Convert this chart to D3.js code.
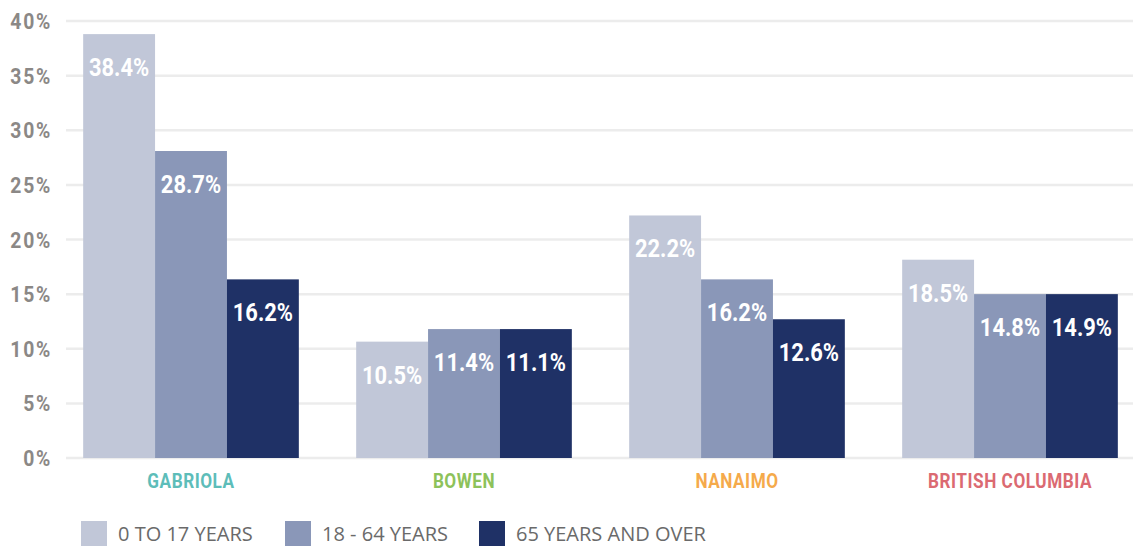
<!DOCTYPE html>
<html>
<head>
<meta charset="utf-8">
<script src="https://cdn.jsdelivr.net/npm/d3@7"></script>
<style>
  body { margin: 0; background: #fff; }
  svg { display: block; }
</style>
</head>
<body>
<div id="chart"></div>
<script>
// data
var regions = ["GABRIOLA", "BOWEN", "NANAIMO", "BRITISH COLUMBIA"];
var regionColors = ["#5dbdb9", "#8dc25a", "#f5aa4b", "#db6a72"];
var ageGroups = ["0 TO 17 YEARS", "18 - 64 YEARS", "65 YEARS AND OVER"];
var groupColors = ["#c1c7d8", "#8a97b8", "#1f3166"];
// bar heights as drawn (%), one array per age group
var young = [38.8, 10.65, 22.2, 18.15];
var adult = [28.1, 11.8, 16.35, 15.0];
var senior = [16.35, 11.8, 12.7, 15.0];
// printed labels
var youngLabels = ["38.4%", "10.5%", "22.2%", "18.5%"];
var adultLabels = ["28.7%", "11.4%", "16.2%", "14.8%"];
var seniorLabels = ["16.2%", "11.1%", "12.6%", "14.9%"];
var yTicks = [0, 5, 10, 15, 20, 25, 30, 35, 40];

var w = 1133, h = 546;
var boldFont = "Roboto, 'DejaVu Sans Condensed', sans-serif";

var svg = d3.select("#chart").append("svg")
  .attr("width", w)
  .attr("height", h);

var y = d3.scaleLinear().domain([0, 40]).range([458, 21]);

var x0 = d3.scaleBand()
  .domain(regions)
  .range([54.5, 1146.5])
  .paddingInner(0.21)
  .paddingOuter(0.105);

var x1 = d3.scaleBand()
  .domain(ageGroups)
  .range([0, x0.bandwidth()]);

// gridlines
svg.append("g").selectAll("line")
  .data(yTicks)
  .join("line")
    .attr("x1", 66)
    .attr("x2", w)
    .attr("y1", d => y(d))
    .attr("y2", d => y(d))
    .attr("stroke", "#ececec")
    .attr("stroke-width", 2.5);

// y tick labels
svg.append("g").selectAll("text")
  .data(yTicks)
  .join("text")
    .attr("transform", d => "translate(52," + y(d) + ") scale(0.86,1)")
    .attr("dy", "0.36em")
    .attr("text-anchor", "end")
    .attr("font-family", boldFont)
    .attr("font-weight", "bold")
    .attr("font-size", 22.5)
    .attr("letter-spacing", 2)
    .attr("fill", "#8b8886")
    .text(d => d + "%");

var series = [
  {name: ageGroups[0], values: young, labels: youngLabels, color: groupColors[0]},
  {name: ageGroups[1], values: adult, labels: adultLabels, color: groupColors[1]},
  {name: ageGroups[2], values: senior, labels: seniorLabels, color: groupColors[2]}
];

var groups = svg.append("g").selectAll("g")
  .data(series)
  .join("g")
    .attr("fill", d => d.color);

groups.selectAll("rect")
  .data(d => regions.map((r, i) => ({region: r, value: d.values[i], name: d.name})))
  .join("rect")
    .attr("x", d => x0(d.region) + x1(d.name))
    .attr("y", d => y(d.value))
    .attr("width", x1.bandwidth())
    .attr("height", d => y(0) - y(d.value));

groups.selectAll("text")
  .data(d => regions.map((r, i) => ({region: r, value: d.values[i], name: d.name, label: d.labels[i]})))
  .join("text")
    .attr("transform", d => "translate(" + (x0(d.region) + x1(d.name) + x1.bandwidth() / 2) + "," +
      (y(d.value) + 42) + ") scale(0.86,1)")
    .attr("text-anchor", "middle")
    .attr("font-family", boldFont)
    .attr("font-weight", "bold")
    .attr("font-size", 25.5)
    .attr("fill", "#fff")
    .text(d => d.label);

// region labels
svg.append("g").selectAll("text")
  .data(regions)
  .join("text")
    .attr("transform", d => "translate(" + (x0(d) + x0.bandwidth() / 2) + ",488) scale(0.86,1)")
    .attr("text-anchor", "middle")
    .attr("font-family", boldFont)
    .attr("font-weight", "bold")
    .attr("font-size", 20)
    .attr("letter-spacing", 0.6)
    .attr("fill", (d, i) => regionColors[i])
    .text(d => d);

// legend
var legendX = [81, 285, 479];
var legend = svg.append("g").selectAll("g")
  .data(ageGroups)
  .join("g")
    .attr("transform", (d, i) => "translate(" + legendX[i] + ",521)");

legend.append("rect")
  .attr("width", 26)
  .attr("height", 26)
  .attr("fill", (d, i) => groupColors[i]);

legend.append("text")
  .attr("x", 37)
  .attr("y", 20)
  .attr("font-family", "'Open Sans', 'Noto Sans', sans-serif")
  .attr("font-size", 20)
  .attr("fill", "#6a6a6a")
  .text(d => d);
</script>
</body>
</html>
